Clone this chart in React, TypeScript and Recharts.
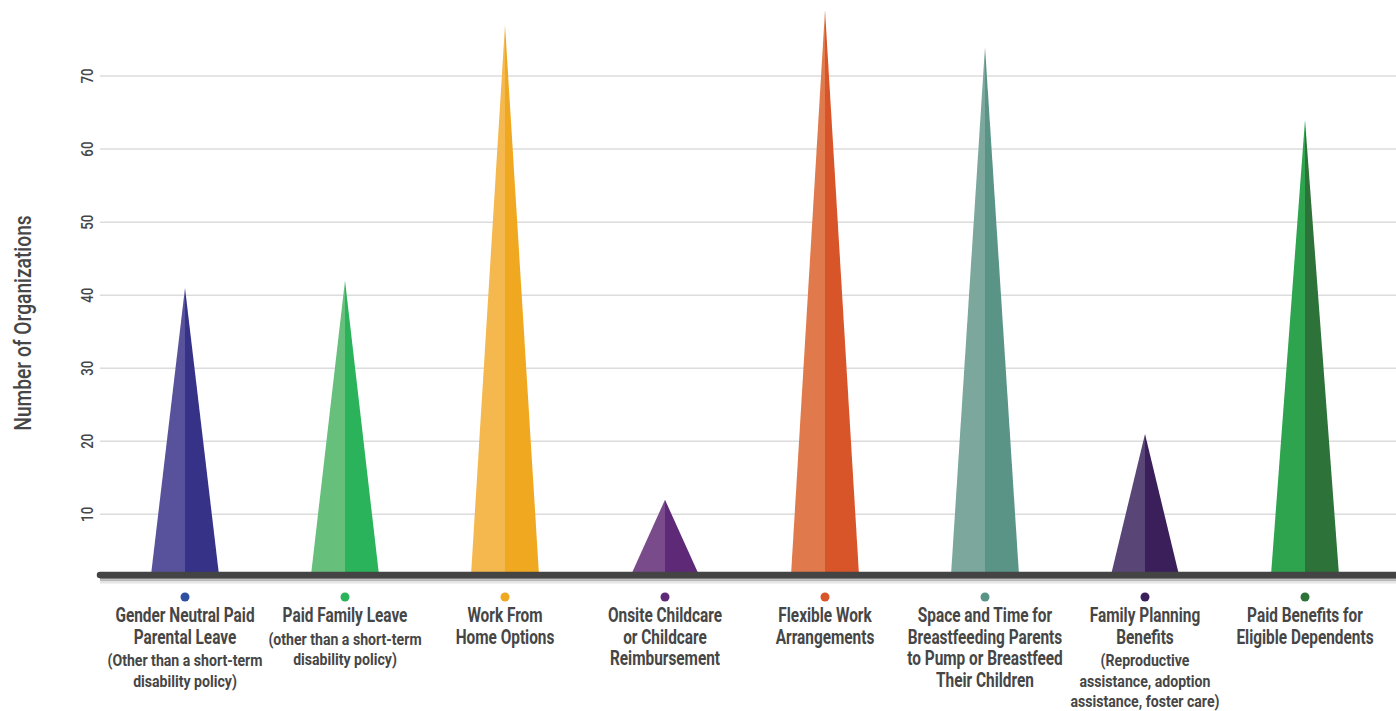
import { BarChart, Bar, XAxis, YAxis, CartesianGrid, Label, ReferenceLine } from 'recharts'

const categories = [
  'Gender Neutral Paid Parental Leave',
  'Paid Family Leave',
  'Work From Home Options',
  'Onsite Childcare or Childcare Reimbursement',
  'Flexible Work Arrangements',
  'Space and Time for Breastfeeding Parents',
  'Family Planning Benefits',
  'Paid Benefits for Eligible Dependents',
]

const organizations = [41, 42, 77, 12, 79, 74, 21, 64]

const titleLines = [
  ['Gender Neutral Paid', 'Parental Leave'],
  ['Paid Family Leave'],
  ['Work From', 'Home Options'],
  ['Onsite Childcare', 'or Childcare', 'Reimbursement'],
  ['Flexible Work', 'Arrangements'],
  ['Space and Time for', 'Breastfeeding Parents', 'to Pump or Breastfeed', 'Their Children'],
  ['Family Planning', 'Benefits'],
  ['Paid Benefits for', 'Eligible Dependents'],
]

const noteLines = [
  ['(Other than a short-term', 'disability policy)'],
  ['(other than a short-term', 'disability policy)'],
  [],
  [],
  [],
  [],
  ['(Reproductive', 'assistance, adoption', 'assistance, foster care)'],
  [],
]

const lightColors = ['#58519b', '#67bf7c', '#f4b84f', '#7a4b8a', '#e07a4c', '#7ba79c', '#5a4577', '#2ea44f']
const darkColors = ['#353288', '#2bb35b', '#f0a820', '#5e2a78', '#d8552a', '#5a9486', '#3a1f5a', '#2d7238']
const dotColors = ['#2f4fa0', '#2bb35b', '#f0a820', '#5e2a78', '#d8552a', '#5a9486', '#3a1f5a', '#2d7238']

const yTicks = [10, 20, 30, 40, 50, 60, 70]
const baseValue = 1.7

const data = categories.map((name, i) => ({ name, value: organizations[i] }))

const font = 'Roboto, "DejaVu Sans", sans-serif'
const textColor = '#464646'

// squeezed text to mimic the condensed face of the original
const Narrow = ({ x, y, size, squeeze, weight, rotate, children }: any) => (
  <text
    transform={`translate(${x} ${y})${rotate ? ` rotate(${rotate})` : ''} scale(${squeeze} 1)`}
    textAnchor="middle"
    fontFamily={font}
    fontSize={size}
    fontWeight={weight}
    fill={textColor}
  >
    {children}
  </text>
)

const Spike = (props: any) => {
  const { x, y, width, height, index } = props
  const mid = x + width / 2
  const bottom = y + height
  return (
    <g>
      <polygon points={`${x},${bottom} ${mid},${y} ${mid},${bottom}`} fill={lightColors[index]} />
      <polygon points={`${mid},${bottom} ${mid},${y} ${x + width},${bottom}`} fill={darkColors[index]} />
    </g>
  )
}

const CategoryTick = (props: any) => {
  const { x, y, payload } = props
  const i = payload.index
  const titles = titleLines[i]
  const notes = noteLines[i]
  return (
    <g>
      <circle cx={x} cy={y + 14} r={4.5} fill={dotColors[i]} />
      {titles.map((line, j) => (
        <Narrow key={'t' + j} x={x} y={y + 39 + j * 21.5} size={20} squeeze={0.77} weight={700}>
          {line}
        </Narrow>
      ))}
      {notes.map((line, j) => (
        <Narrow key={'n' + j} x={x} y={y + 39 + titles.length * 21.5 + 1 + j * 20.5} size={17} squeeze={0.83} weight={700}>
          {line}
        </Narrow>
      ))}
    </g>
  )
}

const ValueTick = (props: any) => {
  const { x, y, payload } = props
  return (
    <Narrow x={x + 1} y={y} size={17} squeeze={0.78} weight={500} rotate={-90}>
      {payload.value}
    </Narrow>
  )
}

const AxisTitle = (props: any) => {
  const { viewBox } = props
  return (
    <Narrow x={viewBox.x + 31} y={viewBox.y + viewBox.height / 2 + 34} size={24} squeeze={0.8} weight={500} rotate={-90}>
      Number of Organizations
    </Narrow>
  )
}

export default function App() {
  return (
    <div style={{ position: 'fixed', left: 0, top: 0, background: '#fff' }}>
      <BarChart width={1396} height={711} data={data} margin={{ top: 3, right: 0, bottom: 0, left: 0 }}>
        <CartesianGrid vertical={false} horizontalValues={yTicks} stroke="#dcdcdc" strokeWidth={1.5} />
        <XAxis
          dataKey="name"
          interval={0}
          height={136}
          padding={{ left: 5, right: 11 }}
          tickLine={false}
          axisLine={false}
          tick={<CategoryTick />}
        />
        <YAxis
          type="number"
          domain={[baseValue, 80]}
          ticks={yTicks}
          width={100}
          axisLine={false}
          tickLine={false}
          allowDataOverflow
          tick={<ValueTick />}
        >
          <Label content={<AxisTitle />} position="insideLeft" />
        </YAxis>
        <Bar dataKey="value" barSize={68} shape={<Spike />} isAnimationActive={false} />
        <ReferenceLine y={baseValue - 0.9} stroke="#000" strokeOpacity={0.1} strokeWidth={4} ifOverflow="visible" />
        <ReferenceLine y={baseValue - 0.6} stroke="#000" strokeOpacity={0.2} strokeWidth={3} ifOverflow="visible" />
        <ReferenceLine y={baseValue - 0.35} stroke="#000" strokeOpacity={0.3} strokeWidth={3} ifOverflow="visible" />
        <ReferenceLine y={baseValue} stroke="#444444" strokeWidth={6.5} strokeLinecap="round" ifOverflow="visible" />
      </BarChart>
    </div>
  )
}
